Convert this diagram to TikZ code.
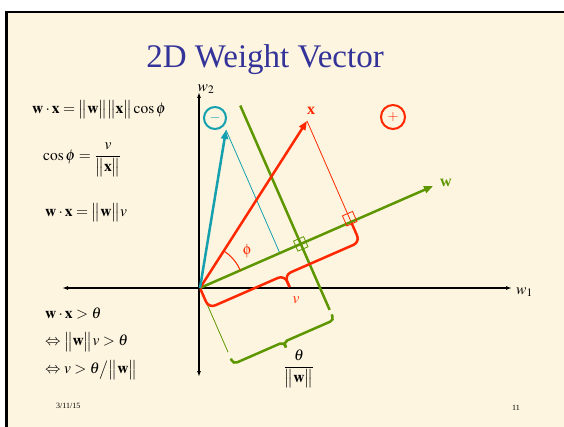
\documentclass[tikz,border=0pt]{standalone}
\usepackage{mathptmx}
\usepackage{pifont}
\usepackage[no-math]{fontspec}
\setmainfont{Liberation Serif}
\usetikzlibrary{arrows.meta,calc}
\definecolor{cream}{RGB}{253,245,224}
\definecolor{ttl}{RGB}{51,51,153}
\definecolor{wgreen}{RGB}{94,150,0}
\definecolor{xred}{RGB}{255,40,0}
\definecolor{tteal}{RGB}{20,160,175}
\tikzset{
  lbl/.style={font=\fontsize{15.5}{18}\selectfont, anchor=west, inner sep=0pt},
  vec/.style={line width=2.5pt, -{Triangle[length=9pt,width=7pt]}},
  thin/.style={line width=0.8pt},
  axis/.style={line width=1.4pt, {Latex[length=6pt,width=4pt]}-{Latex[length=6pt,width=4pt]}},
  bracered/.style={line width=2.5pt, xred, rounded corners=7pt},
  bracegreen/.style={line width=2.5pt, wgreen, rounded corners=4pt},
  sq/.style={draw, line width=0.8pt, minimum size=11pt, inner sep=0pt, rotate=23.6},
  ctext/.style={font=\fontsize{15.5}{18}\selectfont, inner sep=0pt}
}
\begin{document}
\begin{tikzpicture}[x=1pt,y=-1pt]
\useasboundingbox (0,0) rectangle (564,427);
\fill[white] (0,0) rectangle (564,427);
\fill[cream] (6,12) rectangle (564,427);
\draw[line width=2.5pt] (6.5,427) -- (6.5,12) -- (564,12);

% title
\node[font=\fontsize{33}{36}\selectfont, text=ttl, anchor=base] (title) at (265,68) {2D Weight Vector};

% coordinates
\coordinate (n) at (0.4007,0.9162);
\coordinate (O) at (200,288);
\coordinate (W) at (433,186.1);
\coordinate (X) at (307,121);
\coordinate (T) at (226,130);
\coordinate (P) at (351.1,221.9);
\coordinate (Q) at (279.8,253.1);
\coordinate (D0) at (300.78,243.92);
\coordinate (Dtop) at (240.27,105.57);
\coordinate (Dbot) at (329.63,309.89);
\coordinate (G0) at (228.05,352.13);
\coordinate (ax1) at (62,288);
\coordinate (ax2) at (512,288);
\coordinate (ay1) at (199,92);
\coordinate (ay2) at (199,377);

% axes
\draw[axis] (ax1) -- (ax2);
\draw[axis] (ay2) -- (ay1);
\node[ctext, anchor=west] (w1) at (516,292) {$w_1$};
\node[ctext] (w2) at (206,89) {$w_2$};

% projections
\draw[thin, xred] (X) -- (P);
\draw[thin, tteal] (T) -- (Q);
\draw[thin, wgreen] (O) -- (G0);

% decision line
\draw[line width=2.5pt, wgreen] (Dtop) -- (Dbot);

% vectors
\draw[vec, wgreen] (O) -- (W);
\draw[vec, xred] (O) -- (X);
\draw[vec, tteal] (O) -- (T);

% right-angle squares
\node[sq, draw=wgreen] (sqg) at (D0) {};
\node[sq, draw=xred] (sqr) at ($(P)-3.5*(n)$) {};

% angle phi
\draw[xred, line width=1pt] ($(O)+(-23.6:44)$) arc[start angle=-23.6, end angle=-57.4, radius=44];
\node[text=xred, font=\fontsize{15}{18}\selectfont, inner sep=0pt] (phl) at (247,251) {\Pisymbol{psy}{102}};

% red brace
\coordinate (R1) at ($(O)+1*(n)$);
\coordinate (R2) at ($(P)+1*(n)$);
\coordinate (Rm) at ($(R1)!0.5!(R2)$);
\draw[bracered] (R1) -- ($(R1)+21*(n)$) -- ($(Rm)+21*(n)$) -- ($(Rm)+34*(n)$);
\draw[bracered] (R2) -- ($(R2)+21*(n)$) -- ($(Rm)+21*(n)$) -- ($(Rm)+34*(n)$);
\node[ctext, text=xred] (vl) at (296,300) {$v$};

% green brace
\coordinate (G1) at ($(O)+77*(n)$);
\coordinate (G2) at ($(D0)+77*(n)$);
\coordinate (Gm) at ($(G1)!0.5!(G2)$);
\draw[bracegreen] (G1) -- ($(G1)+6*(n)$) -- ($(Gm)+6*(n)$) -- ($(Gm)+12*(n)$);
\draw[bracegreen] (G2) -- ($(G2)+6*(n)$) -- ($(Gm)+6*(n)$) -- ($(Gm)+12*(n)$);
\node[ctext] (thw) at (299,369) {$\displaystyle\frac{\theta}{\big\|\mathbf{w}\big\|}$};

% vector labels
\node[text=xred, font=\fontsize{16}{18}\selectfont\bfseries, inner sep=0pt] (xl) at (311,111) {x};
\node[text=wgreen, font=\fontsize{16}{18}\selectfont\bfseries, inner sep=0pt] (wl) at (446,183) {w};

% class circles
\node[circle, draw=tteal, line width=2pt, minimum size=22pt, inner sep=0pt, text=tteal, font=\fontsize{14}{16}\selectfont\bfseries] (minus) at (215,118) {$-$};
\node[circle, draw=xred, line width=2pt, minimum size=24pt, inner sep=0pt, text=xred, font=\fontsize{14}{16}\selectfont\bfseries] (plus) at (393,117) {$+$};

% formulas
\node[lbl] (f1) at (32,110) {$\mathbf{w}\cdot\mathbf{x}=\big\|\mathbf{w}\big\|\big\|\mathbf{x}\big\|\cos\phi$};
\node[lbl] (f2) at (43,160) {$\cos\phi=\displaystyle\frac{v}{\big\|\mathbf{x}\big\|}$};
\node[lbl] (f3) at (45,213) {$\mathbf{w}\cdot\mathbf{x}=\big\|\mathbf{w}\big\|v$};
\node[lbl] (f4) at (45,313) {$\mathbf{w}\cdot\mathbf{x}>\theta$};
\node[lbl] (f5) at (45,342) {$\Leftrightarrow\big\|\mathbf{w}\big\|v>\theta$};
\node[lbl] (f6) at (45,370) {$\Leftrightarrow v>\theta\big/\big\|\mathbf{w}\big\|$};

% footer
\node[font=\fontsize{8}{9}\selectfont, anchor=base west, inner sep=0pt] (date) at (56,408) {3/11/15};
\node[font=\fontsize{8}{9}\selectfont, anchor=base west, inner sep=0pt] (pg) at (512,410) {11};
\end{tikzpicture}
\end{document}
